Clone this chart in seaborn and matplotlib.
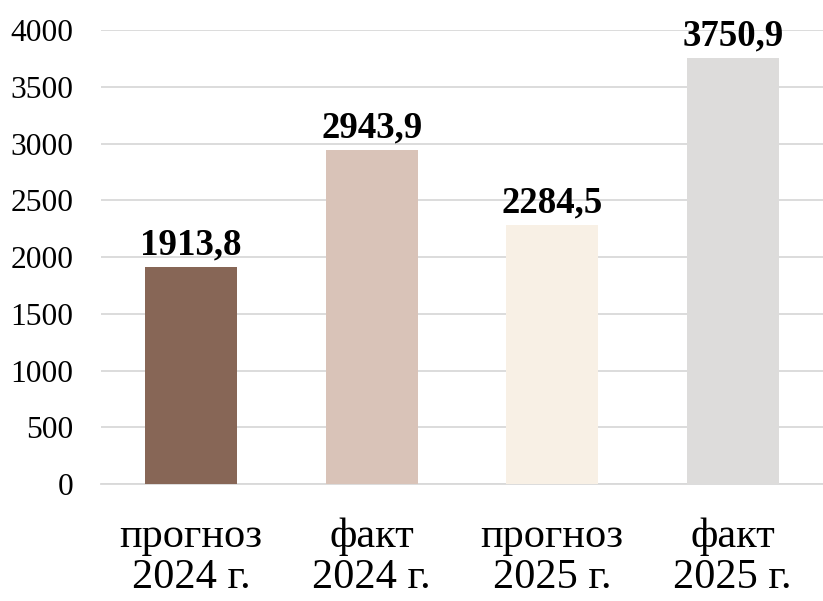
import matplotlib
matplotlib.use("Agg")
import matplotlib.pyplot as plt
import seaborn as sns
import pandas as pd

categories = ["прогноз\n2024 г.", "факт\n2024 г.", "прогноз\n2025 г.", "факт\n2025 г."]
values = [1913.8, 2943.9, 2284.5, 3750.9]
value_labels = ["1913,8", "2943,9", "2284,5", "3750,9"]
colors = ["#876656", "#D9C3B8", "#F8F0E5", "#DDDCDB"]
yticks = [0, 500, 1000, 1500, 2000, 2500, 3000, 3500, 4000]

sns.set_theme(style="white")
plt.rcParams["font.family"] = ["Liberation Serif", "DejaVu Serif"]

df = pd.DataFrame({"cat": categories, "val": values})

fig = plt.figure(figsize=(8.23, 6.01), dpi=100)
ax = fig.add_axes([0.1227, 0.1947, 0.8773, 0.7553])

sns.barplot(data=df, x="cat", y="val", hue="cat", palette=colors, legend=False,
            width=0.51, ax=ax, saturation=1, zorder=3, linewidth=0)

ax.set_ylim(0, 4000)
ax.set_yticks(yticks)
ax.set_yticklabels([str(t) for t in yticks])
ax.yaxis.grid(True, color="#D9D9D9", linewidth=1.3, zorder=0)
ax.set_axisbelow(True)
for s in ["top", "right", "left"]:
    ax.spines[s].set_visible(False)
ax.spines["bottom"].set_color("#D9D9D9")
ax.spines["bottom"].set_linewidth(1.3)
ax.set_xlabel("")
ax.set_ylabel("")
ax.tick_params(axis="y", length=0, pad=20, labelsize=22.7, labelcolor="black")
ax.tick_params(axis="x", length=0, pad=24, labelsize=30.5, labelcolor="black")
for lbl in ax.get_xticklabels():
    lbl.set_linespacing(1.1)

for i, (v, t) in enumerate(zip(values, value_labels)):
    ax.annotate(t, xy=(i, v), xytext=(0, 9), textcoords="offset points",
                ha="center", va="baseline", fontsize=26.6, fontweight="bold",
                color="black", annotation_clip=False)

fig.savefig("out.png", dpi=100)
